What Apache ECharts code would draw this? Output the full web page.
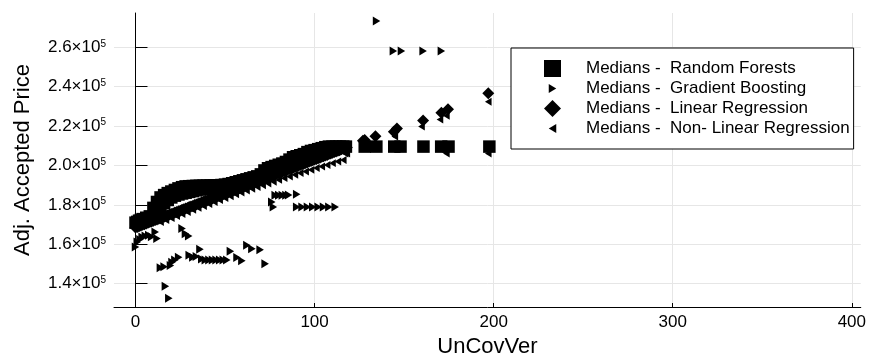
<!DOCTYPE html>
<html>
<head>
<meta charset="utf-8">
<script src="https://cdn.jsdelivr.net/npm/echarts@6/dist/echarts.min.js"></script>
<style>html,body{margin:0;padding:0;background:#fff;}#c{width:869px;height:364px;}</style>
</head>
<body>
<div id="c"></div>
<script>
// ---- data ----
const seriesNames = ['Medians -  Random Forests', 'Medians -  Gradient Boosting', 'Medians -  Linear Regression', 'Medians -  Non- Linear Regression'];
const xTicks = [0, 100, 200, 300, 400];
const yTicks = [140000, 160000, 180000, 200000, 220000, 240000, 260000];

const randomForests = [
  [0,171000],[1,171400],[2,172000],[3,172400],[4,172800],[6,173500],[8,174200],[10,178500],[12,181500],[14,183800],
  [16,185000],[18,186000],[20,186800],[22,187600],[24,188400],[26,189000],[28,189400],[30,189500],[32,189600],
  [34,189700],[36,189700],[38,189800],[40,189800],[42,189900],[44,190000],[46,190000],[48,190100],[50,190300],
  [52,190600],[54,191000],[56,191500],[58,192000],[60,192500],[62,193000],[64,193500],[66,194000],[68,194500],
  [70,195500],[72,197500],[74,198600],[76,199200],[78,199800],[80,200400],[82,201000],[84,201800],[86,203000],
  [88,204200],[90,204700],[92,205200],[94,205800],[96,206800],[98,207400],[100,207800],[102,208300],[104,208800],
  [106,209300],[108,209600],[110,209600],[112,209600],[114,209600],[116,209600],[117.5,209600],
  [12,178000],[14,179500],[16,181000],[18,182500],[20,183800],[22,184700],[24,185300],[26,185800],[28,186200],
  [30,186600],[32,187000],[34,187400],[36,187800],[38,188100],[40,188300],[44,188600],[48,188800],[52,189200],
  [56,190000],[60,191000],
  [128,209600],[134.5,209600],[144.5,209600],[148,209600],[160.8,209600],[170.7,209600],[174.8,209600],[197.6,209600]
];

const gradientBoosting = [
  [0,158600],[1,161200],[2.5,162500],[3.7,163700],[5.5,164200],[7.4,164600],[9,163800],[11,166300],[12,162900],
  [26,168000],[27.9,165400],[29.7,164200],
  [13.9,148100],[16,148600],[19.5,149200],[20.4,150900],[22,152000],[24.1,153500],
  [16.7,138700],[18.6,132600],
  [30,154500],[32,153500],[34,153800],[36,157500],
  [37,152500],[39,152000],[41,152000],[43,152000],[45,152000],[47,152000],[49,152000],[51,152000],
  [53,156500],[56.7,153300],[59.4,151700],
  [62.2,159500],[65,157800],[69.6,157300],[72.4,150200],
  [76.1,181500],[77,178900],[78,184900],[80,184900],[82,184900],[84,184900],[85.5,185000],[90,185400],
  [90,178900],[93,178900],[96,178900],[99,178900],[102,178900],[105,178900],[108,178900],[111.5,178900],
  [134.6,273400],[144,258100],[148.5,258100],[160.6,258100],[170.8,258100]
];

const linearRegression = [
  [0,168500],[1,168800],[2,169200],[3,169500],[4,169900],[5,170200],[6,170600],[7,170900],[8,171300],[9,171600],
  [10,172000],[11,172300],[12,172600],[13,173000],[14,173300],[15,173700],[16,174000],[17,174400],[18,174700],
  [19,175100],[20,175400],[21,175700],[22,176100],[23,176400],[24,176800],[25,177100],[26,177500],[27,177800],
  [28,178200],[29,178500],[30,178900],[31,179200],[32,179500],[33,179900],[34,180200],[35,180600],[36,180900],
  [37,181300],[38,181600],[39,182000],[40,182300],[41,182600],[42,183000],[43,183300],[44,183700],[45,184000],
  [46,184400],[47,184700],[48,185100],[49,185400],[50,185800],[51,186100],[52,186400],[53,186800],[54,187100],
  [55,187500],[56,187800],[57,188200],[58,188500],[59,188900],[60,189200],[61,189500],[62,189900],[63,190200],
  [64,190600],[65,190900],[66,191300],[67,191600],[68,192000],[69,192300],[70,192700],[71,193000],[72,193300],
  [73,193700],[74,194000],[75,194400],[76,194700],[77,195100],[78,195400],[79,195800],[80,196100],[81,196400],
  [82,196800],[83,197100],[84,197500],[85,197800],[86,198200],[87,198500],[88,198900],[89,199200],[90,199600],
  [91,199900],[92,200200],[93,200600],[94,200900],[95,201300],[96,201600],[97,202000],[98,202300],[99,202700],
  [100,203000],[101,203300],[102,203700],[103,204000],[104,204400],[105,204700],[106,205100],[107,205400],
  [108,205800],[109,206100],[110,206500],[111,206800],[112,207100],[113,207500],[114,207800],[115,208200],
  [116,208500],[117,208900],[118,209200],
  [127,212600],[128,213000],[134,214900],[144.3,217100],[146,218800],[160.6,222800],[170.8,226800],[174.5,228500],[197,236700]
];

const nonLinearRegression = [
  [14,171300],[17,172300],[20,173300],[23,174400],[26,175400],[29,176400],[32,177500],[35,178500],[38,179500],
  [41,180500],[44,181500],[47,182500],[50,183500],[53,184400],[56,185400],[59,186300],[62,187300],[65,188200],
  [68,189100],[71,190000],[74,190900],[77,191800],[80,192700],[83,193600],[86,194400],[89,195300],[92,196200],
  [95,197000],[98,197800],[101,198700],[104,199500],[107,200300],[110,201200],[113,202000],[116,202800],
  [117,206100],[118,206100],[144.8,214700],[159.7,219800],[170,223300],[173.6,225300],[173.6,206100],
  [197,232400],[197,206100]
];

// ---- chart ----
const FONT = 'Liberation Sans, Arial, Helvetica, sans-serif';
const SQ = 'path://M0,0L17,0L17,17L0,17Z';
const TR = 'path://M0,0M17,17M4.75,4L12.25,8.5L4.75,13Z';
const DM = 'path://M8.5,0L17,8.5L8.5,17L0,8.5Z';
const TL = 'path://M0,0M17,17M12.25,4L4.75,8.5L12.25,13Z';

const chart = echarts.init(document.getElementById('c'), null, {renderer: 'canvas'});
const mk = (name, data, symbol, size) => ({
  name, type: 'scatter', data, symbol, symbolSize: size,
  itemStyle: {color: '#000', opacity: 1}, emphasis: {disabled: true}, animation: false, z: 3
});
chart.setOption({
  animation: false,
  backgroundColor: '#fff',
  textStyle: {fontFamily: FONT},
  grid: {left: 114, right: 7, top: 13, bottom: 57, containLabel: false},
  xAxis: {
    type: 'value', min: -12, max: 405,
    name: 'UnCovVer', nameLocation: 'middle', nameGap: 25,
    nameTextStyle: {fontSize: 22, color: '#000', fontFamily: FONT},
    axisLine: {show: true, lineStyle: {color: '#000', width: 1}},
    axisTick: {show: true, inside: true, length: 4, customValues: xTicks, lineStyle: {color: '#000'}},
    axisLabel: {customValues: xTicks, fontSize: 17, color: '#000', margin: 7, fontFamily: FONT},
    splitLine: {show: true, customValues: xTicks, lineStyle: {color: '#e6e6e6', width: 1}}
  },
  yAxis: {
    type: 'value', min: 128200, max: 277400,
    name: 'Adj. Accepted Price', nameLocation: 'middle', nameGap: 80, nameRotate: 90,
    nameTextStyle: {fontSize: 22, color: '#000', fontFamily: FONT},
    axisLine: {show: true, lineStyle: {color: '#000', width: 1}},
    axisTick: {show: true, inside: true, length: 12, customValues: yTicks, lineStyle: {color: '#000'}},
    axisLabel: {
      customValues: yTicks, margin: 8, color: '#000',
      formatter: v => '{m|' + (v / 100000).toFixed(1) + '×10}{e|5}',
      rich: {
        m: {fontSize: 17, color: '#000', fontFamily: FONT},
        e: {fontSize: 10, color: '#000', fontFamily: FONT, verticalAlign: 'top'}
      }
    },
    splitLine: {show: true, customValues: yTicks, lineStyle: {color: '#e6e6e6', width: 1}}
  },
  legend: {
    orient: 'vertical', left: 511, top: 48,
    padding: [12, 4, 12, 33], itemGap: 3, itemWidth: 17, itemHeight: 17,
    backgroundColor: '#fff', borderColor: '#000', borderWidth: 1,
    textStyle: {fontSize: 17, color: '#000', fontFamily: FONT, padding: [0, 0, 0, 20]},
    selectedMode: false,
    data: [
      {name: seriesNames[0], icon: SQ},
      {name: seriesNames[1], icon: TR},
      {name: seriesNames[2], icon: DM},
      {name: seriesNames[3], icon: TL}
    ]
  },
  series: [
    mk(seriesNames[0], randomForests, SQ, 12.5),
    mk(seriesNames[1], gradientBoosting, TR, 17),
    mk(seriesNames[2], linearRegression, DM, 12),
    mk(seriesNames[3], nonLinearRegression, TL, 15)
  ]
});
</script>
</body>
</html>
